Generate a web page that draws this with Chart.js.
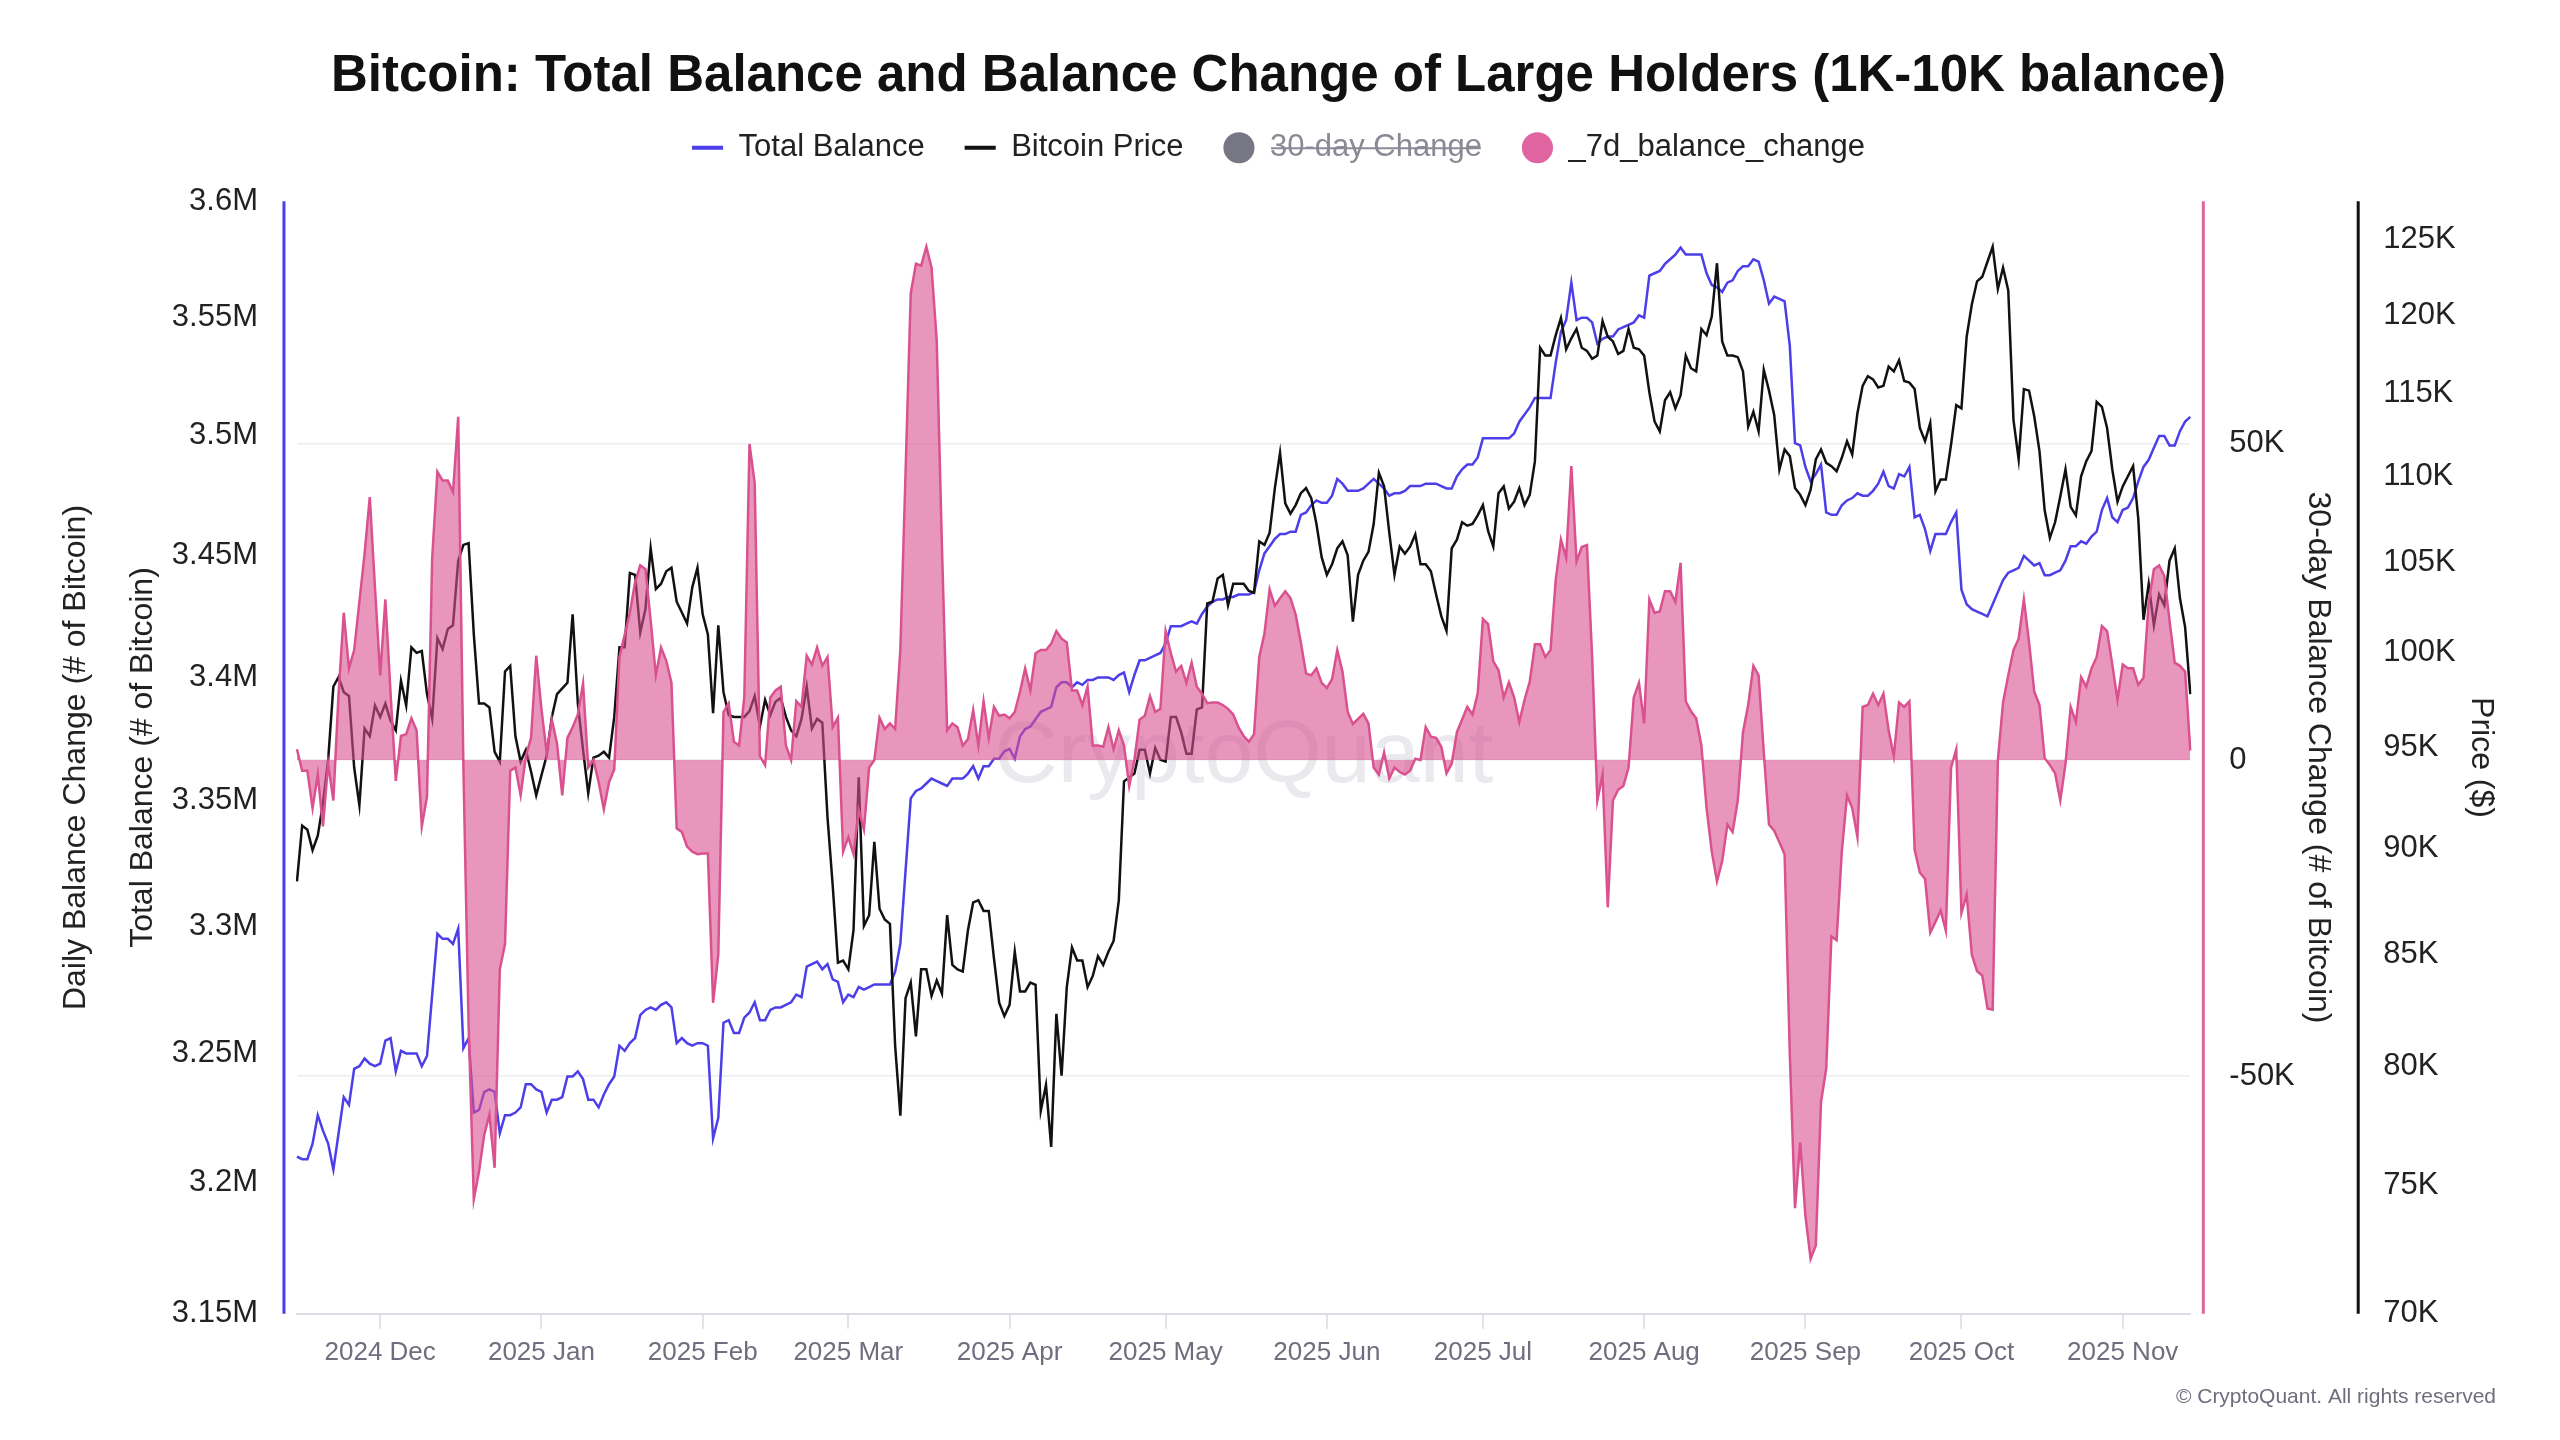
<!DOCTYPE html>
<html>
<head>
<meta charset="utf-8">
<title>Bitcoin: Total Balance and Balance Change of Large Holders</title>
<script src="https://cdn.jsdelivr.net/npm/chart.js@4.4.1/dist/chart.umd.min.js"></script>
<style>
  html, body { margin: 0; padding: 0; background: #fff; }
  canvas { display: block; }
</style>
</head>
<body>
<canvas id="chart" width="2560" height="1440"></canvas>
<script>
// daily series, one value per day starting at startDate
const startDate = '2024-11-15';
const monthNames = ['Jan', 'Feb', 'Mar', 'Apr', 'May', 'Jun', 'Jul', 'Aug', 'Sep', 'Oct', 'Nov', 'Dec'];

const totalBalance = [
  3210000, 3209000, 3209000, 3215000, 3226000, 3220000, 3215000, 3205000, 3219000, 3233000,
  3230000, 3244000, 3245000, 3248000, 3246000, 3245000, 3246000, 3255000, 3256000, 3243000,
  3251000, 3250000, 3250000, 3250000, 3245000, 3249000, 3273000, 3297000, 3295000, 3295000,
  3293000, 3299000, 3252000, 3256000, 3227000, 3228000, 3235000, 3236000, 3235000, 3219000,
  3226000, 3226000, 3227000, 3229000, 3238000, 3238000, 3236000, 3235000, 3227000, 3232000,
  3232000, 3233000, 3241000, 3241000, 3243000, 3240000, 3232000, 3232000, 3229000, 3234000,
  3238000, 3241000, 3253000, 3251000, 3254000, 3256000, 3265000, 3267000, 3268000, 3267000,
  3269000, 3270000, 3268000, 3254000, 3256000, 3254000, 3253000, 3254000, 3254000, 3253000,
  3217000, 3225000, 3262000, 3263000, 3258000, 3258000, 3264000, 3266000, 3270000, 3263000,
  3263000, 3267000, 3268000, 3268000, 3269000, 3270000, 3273000, 3272000, 3284000, 3285000,
  3286000, 3283000, 3285000, 3279000, 3278000, 3270000, 3273000, 3272000, 3276000, 3275000,
  3276000, 3277000, 3277000, 3277000, 3277000, 3282000, 3293000, 3322000, 3351000, 3354000,
  3355000, 3357000, 3359000, 3358000, 3357000, 3356000, 3359000, 3359000, 3359000, 3361000,
  3364000, 3359000, 3364000, 3364000, 3367000, 3367000, 3370000, 3371000, 3367000, 3376000,
  3379000, 3380000, 3383000, 3386000, 3387000, 3388000, 3396000, 3398000, 3398000, 3396000,
  3398000, 3397000, 3399000, 3399000, 3400000, 3400000, 3400000, 3399000, 3401000, 3402000,
  3394000, 3401000, 3407000, 3407000, 3408000, 3409000, 3410000, 3414000, 3421000, 3421000,
  3421000, 3422000, 3423000, 3422000, 3426000, 3429000, 3431000, 3432000, 3432000, 3433000,
  3433000, 3434000, 3434000, 3434000, 3435000, 3444000, 3451000, 3454000, 3457000, 3459000,
  3459000, 3460000, 3460000, 3467000, 3468000, 3471000, 3473000, 3472000, 3472000, 3475000,
  3482000, 3480000, 3477000, 3477000, 3477000, 3478000, 3480000, 3482000, 3480000, 3478000,
  3475000, 3476000, 3476000, 3477000, 3479000, 3479000, 3479000, 3480000, 3480000, 3480000,
  3479000, 3478000, 3478000, 3483000, 3486000, 3488000, 3488000, 3491000, 3499000, 3499000,
  3499000, 3499000, 3499000, 3499000, 3501000, 3506000, 3509000, 3512000, 3516000, 3516000,
  3516000, 3516000, 3531000, 3544000, 3549000, 3565000, 3549000, 3550000, 3550000, 3548000,
  3539000, 3541000, 3542000, 3542000, 3545000, 3546000, 3547000, 3548000, 3551000, 3550000,
  3568000, 3569000, 3570000, 3573000, 3575000, 3577000, 3580000, 3577000, 3577000, 3577000,
  3577000, 3569000, 3564000, 3563000, 3561000, 3565000, 3566000, 3570000, 3572000, 3572000,
  3575000, 3574000, 3566000, 3556000, 3559000, 3558000, 3557000, 3538000, 3497000, 3496000,
  3487000, 3481000, 3484000, 3488000, 3468000, 3467000, 3467000, 3471000, 3473000, 3474000,
  3476000, 3475000, 3475000, 3477000, 3480000, 3485000, 3479000, 3478000, 3484000, 3483000,
  3487000, 3466000, 3467000, 3461000, 3452000, 3459000, 3459000, 3459000, 3464000, 3468000,
  3436000, 3430000, 3428000, 3427000, 3426000, 3425000, 3430000, 3435000, 3440000, 3443000,
  3444000, 3445000, 3450000, 3448000, 3446000, 3447000, 3442000, 3442000, 3443000, 3444000,
  3448000, 3454000, 3454000, 3456000, 3455000, 3458000, 3460000, 3469000, 3474000, 3466000,
  3464000, 3469000, 3470000, 3474000, 3481000, 3487000, 3490000, 3495000, 3500000, 3500000,
  3496000, 3496000, 3502000, 3506000, 3508000
];

const bitcoinPrice = [
  88400, 91100, 90900, 89900, 90600, 92200, 94400, 98200, 98700, 97900,
  97700, 94000, 92100, 96000, 95600, 97200, 96600, 97300, 96400, 95900,
  98500, 97200, 100300, 100000, 100100, 97800, 96500, 100800, 100200, 101300,
  101500, 105100, 106000, 106100, 101000, 97300, 97300, 97100, 94800, 94300,
  99000, 99300, 95600, 94300, 94900, 93800, 92600, 93600, 94600, 96600,
  97800, 98100, 98400, 102100, 97300, 94900, 92700, 94500, 94600, 94800,
  94500, 96600, 100300, 100300, 104400, 104300, 101100, 102400, 105800, 103500,
  103800, 104500, 104700, 102800, 102200, 101600, 103600, 104700, 102100, 101000,
  96800, 101500, 97900, 96700, 96600, 96600, 96600, 96900, 97700, 96100,
  97500, 96700, 97400, 97600, 96600, 95900, 95600, 96500, 98200, 96000,
  96500, 96300, 91500, 88200, 84600, 84700, 84300, 86100, 93500, 86300,
  86800, 90300, 87100, 86600, 86400, 80900, 77900, 83000, 83700, 81300,
  84300, 84300, 83100, 83800, 83200, 86800, 84500, 84300, 84200, 86100,
  87400, 87500, 87000, 87000, 84800, 82800, 82200, 82700, 85100, 83300,
  83300, 83700, 83600, 78100, 79200, 76600, 82300, 79600, 83500, 85300,
  84700, 84700, 83500, 84000, 84900, 84500, 85100, 85600, 87500, 93300,
  93500, 93700, 94900, 94900, 93700, 95000, 94400, 94300, 96600, 96600,
  95800, 94700, 94700, 97000, 97100, 102700, 102800, 104100, 104300, 102600,
  103800, 103800, 103800, 103400, 103300, 106200, 106000, 106700, 109300, 111400,
  108400, 107800, 108300, 109000, 109300, 108700, 107200, 105300, 104300, 104900,
  105800, 106200, 105400, 101700, 104300, 105100, 105600, 107200, 110200, 109400,
  106700, 104300, 105900, 105500, 105900, 106600, 104900, 104900, 104500, 103200,
  102000, 101200, 105800, 106300, 107300, 107100, 107200, 107700, 108300, 106800,
  105900, 109000, 109400, 108100, 108500, 109300, 108300, 108900, 110900, 117900,
  117400, 117400, 118700, 119800, 117800, 118500, 119100, 117900, 117700, 117200,
  117400, 119600, 118600, 118300, 117500, 117700, 119100, 117900, 117800, 117400,
  115100, 113300, 112700, 114600, 115100, 114100, 114900, 117400, 116600, 116400,
  119100, 118700, 119900, 123400, 118300, 117400, 117400, 117300, 116400, 113000,
  113900, 112700, 116500, 115200, 113700, 110400, 111600, 111200, 109300, 108900,
  108300, 109200, 111000, 111600, 110800, 110600, 110300, 111100, 112100, 111300,
  113800, 115500, 116100, 115900, 115400, 115500, 116700, 116400, 117100, 115800,
  115700, 115300, 112900, 112100, 113200, 109100, 109800, 109800, 111900, 114300,
  114100, 118600, 120700, 122200, 122500, 123500, 124500, 121700, 123100, 121600,
  113400, 111000, 115300, 115200, 113600, 111500, 108000, 106400, 107300, 108800,
  110400, 108200, 107700, 110000, 110900, 111500, 114500, 114200, 112900, 110400,
  108500, 109400, 110000, 110600, 107500, 101800, 103800, 101500, 103200, 102600,
  105100, 105800, 103000, 101400, 97800
];

const balanceChange7d = [
  1700, -1700, -1700, -7600, -2300, -10500, -600, -6400, 10500, 23300,
  14500, 17400, 25000, 32600, 41600, 27300, 13400, 25400, 10500, -3300,
  3800, 4100, 6600, 4700, -10500, -5800, 32000, 45600, 44200, 44200,
  42400, 54300, -1200, -41900, -69500, -65100, -59300, -56100, -64500, -33100,
  -29100, -1700, -1200, -5600, 600, 3500, 16500, 8100, 1200, 6400,
  2600, -5600, 3500, 5200, 7200, 12100, -1200, 0, -3500, -7800,
  -3500, -1500, 16300, 19800, 23300, 28100, 30800, 30200, 22100, 13400,
  17800, 15700, 12200, -10800, -11400, -13700, -14500, -14900, -14800, -14800,
  -38400, -30800, 7600, 9000, 2900, 2300, 9900, 50000, 43800, 600,
  -800, 9900, 11000, 11600, 2300, 0, 9300, 8400, 16500, 15100,
  17800, 14900, 16300, 5200, 6700, -14500, -12200, -14900, -7900, -11000,
  -1200, 0, 6700, 4900, 5800, 4900, 17400, 45400, 73800, 78500,
  78200, 81200, 77900, 66300, 33700, 4700, 5800, 5200, 2300, 3300,
  7900, 2300, 9300, 3500, 8400, 7000, 7200, 6600, 7600, 10800,
  14500, 11000, 16900, 17400, 17400, 18400, 20400, 19200, 18600, 11000,
  11000, 8700, 11600, 2300, 2300, 2100, 5200, 1700, 4700, 2300,
  -4100, 0, 6400, 7000, 10100, 7600, 8100, 20400, 16900, 14000,
  14900, 12200, 15400, 11600, 10500, 9000, 9100, 9100, 8700, 8100,
  7200, 5200, 3800, 2900, 4100, 16300, 20000, 27000, 24400, 25600,
  26700, 25600, 23000, 18600, 13700, 13400, 14500, 12200, 11400, 12800,
  17400, 14000, 7600, 5700, 6500, 7300, 5800, -1200, -2300, 1200,
  -2900, -1200, -1900, -2300, -1700, 200, 0, 5200, 3700, 3500,
  2100, -2100, -600, 4400, 6400, 8400, 7200, 10500, 22300, 21500,
  15600, 14200, 9900, 12300, 9900, 6000, 9500, 12400, 18300, 18300,
  16300, 17400, 28500, 34900, 32000, 46500, 31400, 33700, 34000, 16300,
  -6400, -2300, -23300, -6400, -4700, -4100, -1200, 9900, 12200, 5800,
  25400, 23300, 23500, 26700, 26700, 25000, 31200, 9300, 7700, 6600,
  2300, -7600, -14500, -19200, -16000, -10200, -11400, -6400, 4400, 8700,
  14900, 13400, 1200, -10200, -11200, -13000, -14900, -46500, -70900, -60500,
  -72100, -78900, -76800, -54100, -48800, -27900, -28500, -14500, -5600, -7600,
  -12200, 8400, 8700, 10500, 8700, 10500, 4700, 600, 9100, 8400,
  9300, -14200, -17800, -18800, -27300, -25600, -23800, -27000, -1200, 1700,
  -24200, -21300, -30800, -33400, -34100, -39300, -39500, 0, 9100, 13400,
  17400, 19200, 25400, 18600, 10800, 8700, 300, -800, -2100, -6400,
  -600, 8400, 6000, 13100, 11600, 14500, 16300, 21200, 20400, 15100,
  9500, 15100, 14500, 14500, 11900, 13000, 25000, 30200, 30800, 29100,
  22100, 15400, 14900, 14000, 1500
];

const balanceTicks = [3150000, 3200000, 3250000, 3300000, 3350000, 3400000, 3450000, 3500000, 3550000, 3600000];
const priceTicks = [70000, 75000, 80000, 85000, 90000, 95000, 100000, 105000, 110000, 115000, 120000, 125000];
const changeTicks = [-50000, 0, 50000];

// one category label per day
const dates = [];
const first = new Date(startDate + 'T00:00:00Z');
for (let i = 0; i < totalBalance.length; i++) {
  dates.push(new Date(first.getTime() + i * 86400000).toISOString().slice(0, 10));
}

const FONT = '"Liberation Sans", Arial, Helvetica, sans-serif';
Chart.defaults.font.family = FONT;

// leaves room between the legend and the plot
const legendGap = {
  id: 'legendGap',
  beforeInit(chart) {
    const fit = chart.legend.fit;
    chart.legend.fit = function () {
      fit.call(this);
      this.height += 28;
    };
  }
};

const watermark = {
  id: 'watermark',
  beforeDatasetsDraw(chart) {
    const { ctx, chartArea: a } = chart;
    ctx.save();
    ctx.font = '88px ' + FONT;
    ctx.fillStyle = 'rgba(175, 175, 195, 0.28)';
    ctx.textAlign = 'center';
    ctx.textBaseline = 'middle';
    ctx.fillText('CryptoQuant', (a.left + a.right) / 2, (a.top + a.bottom) / 2);
    ctx.restore();
  }
};

// axis lines sit a little outside the plot, like the original
const axisLines = {
  id: 'axisLines',
  afterDraw(chart) {
    const { ctx, chartArea: a, scales } = chart;
    const lines = [
      [a.left - 13, '#4c3ee9'],
      [a.right + 13, '#e0649f'],
      [scales.yPrice.left, '#111111']
    ];
    ctx.save();
    ctx.lineWidth = 3;
    lines.forEach(([x, color]) => {
      ctx.strokeStyle = color;
      ctx.beginPath();
      ctx.moveTo(x, a.top);
      ctx.lineTo(x, a.bottom);
      ctx.stroke();
    });
    ctx.font = '21px ' + FONT;
    ctx.fillStyle = '#6e6e7e';
    ctx.textAlign = 'right';
    ctx.textBaseline = 'middle';
    ctx.fillText('\u00a9 CryptoQuant. All rights reserved', chart.width - 64, 1397);
    ctx.restore();
  }
};

// tick padding counts twice in an axis width, so the title padding takes some back
const axisTitle = (text, padding) => ({
  display: true,
  text,
  color: '#222',
  font: { size: 32 },
  padding
});

new Chart(document.getElementById('chart'), {
  type: 'line',
  data: {
    labels: dates,
    datasets: [
      {
        label: 'Total Balance',
        data: totalBalance,
        yAxisID: 'yBalance',
        borderColor: '#4c3ee9',
        borderWidth: 2.5,
        pointRadius: 0,
        pointHoverRadius: 0,
        pointStyle: 'line',
        legendColor: '#4c3ee9',
        order: 3
      },
      {
        label: 'Bitcoin Price',
        data: bitcoinPrice,
        yAxisID: 'yPrice',
        borderColor: '#111111',
        borderWidth: 2.5,
        pointRadius: 0,
        pointHoverRadius: 0,
        pointStyle: 'line',
        legendColor: '#111111',
        order: 2
      },
      {
        // switched off in the original, so nothing is drawn
        type: 'bar',
        label: '30-day Change',
        data: [],
        yAxisID: 'yChange',
        hidden: true,
        backgroundColor: '#767685',
        pointStyle: 'circle',
        legendColor: '#767685',
        order: 1
      },
      {
        label: '_7d_balance_change',
        data: balanceChange7d,
        yAxisID: 'yChange',
        fill: 'origin',
        backgroundColor: 'rgba(218, 80, 145, 0.6)',
        borderColor: '#d9528f',
        borderWidth: 2.5,
        pointRadius: 0,
        pointHoverRadius: 0,
        pointStyle: 'circle',
        legendColor: '#e0649f',
        order: 0
      }
    ]
  },
  options: {
    responsive: false,
    devicePixelRatio: 1,
    animation: false,
    layout: { padding: { left: 57, right: 60, top: 0, bottom: 64 } },
    plugins: {
      title: {
        display: true,
        text: 'Bitcoin: Total Balance and Balance Change of Large Holders (1K-10K balance)',
        color: '#111',
        font: { size: 51, weight: 'bold' },
        padding: { top: 46, bottom: -15 }
      },
      legend: {
        labels: {
          usePointStyle: true,
          boxHeight: 22,
          padding: 40,
          color: '#222',
          font: { size: 31 },
          sort: (a, b) => a.datasetIndex - b.datasetIndex,
          generateLabels(chart) {
            const items = Chart.defaults.plugins.legend.labels.generateLabels(chart);
            items.forEach(item => {
              const ds = chart.data.datasets[item.datasetIndex];
              item.fillStyle = ds.legendColor;
              item.strokeStyle = ds.legendColor;
              item.lineWidth = ds.pointStyle === 'line' ? 4 : 0;
              if (item.hidden) item.fontColor = '#8a8a96';
            });
            return items;
          }
        }
      },
      tooltip: { enabled: false }
    },
    scales: {
      x: {
        type: 'category',
        offset: false,
        grid: { offset: false, drawOnChartArea: false, drawTicks: true, tickLength: 15, color: '#e2e2e8', lineWidth: 2 },
        border: { color: '#dcdce4', width: 2 },
        ticks: {
          autoSkip: false,
          maxRotation: 0,
          padding: 8,
          color: '#6e6e7e',
          font: { size: 26 },
          callback(value, index) {
            const s = dates[index];
            if (s.slice(8) !== '01') return null;
            return s.slice(0, 4) + ' ' + monthNames[Number(s.slice(5, 7)) - 1];
          }
        }
      },
      yBalance: {
        type: 'logarithmic',
        position: 'left',
        weight: 1,
        min: 3150000,
        max: 3600000,
        afterBuildTicks: scale => { scale.ticks = balanceTicks.map(value => ({ value })); },
        ticks: {
          padding: 39,
          color: '#222',
          font: { size: 31 },
          callback: v => +(v / 1e6).toFixed(2) + 'M'
        },
        grid: { display: false, drawTicks: false },
        border: { display: false },
        title: axisTitle('Total Balance (# of Bitcoin)', { top: 0, bottom: -30 })
      },
      yDaily: {
        type: 'linear',
        position: 'left',
        weight: 2,
        ticks: { display: false },
        grid: { display: false, drawTicks: false },
        border: { display: false },
        title: axisTitle('Daily Balance Change (# of Bitcoin)', { top: 0, bottom: 29 })
      },
      yChange: {
        type: 'linear',
        position: 'right',
        weight: 0,
        min: -87600,
        max: 88400,
        afterBuildTicks: scale => { scale.ticks = changeTicks.map(value => ({ value })); },
        ticks: {
          padding: 39,
          color: '#222',
          font: { size: 31 },
          callback: v => (v === 0 ? '0' : v / 1000 + 'K')
        },
        grid: { color: '#ececf1', lineWidth: 1.5, drawTicks: false },
        border: { display: false },
        title: axisTitle('30-day Balance Change (# of Bitcoin)', { top: 21, bottom: -35 })
      },
      yPrice: {
        type: 'logarithmic',
        position: 'right',
        weight: 1,
        min: 70000,
        max: 127600,
        afterBuildTicks: scale => { scale.ticks = priceTicks.map(value => ({ value })); },
        ticks: {
          padding: 25,
          color: '#222',
          font: { size: 31 },
          callback: v => v / 1000 + 'K'
        },
        grid: { display: false, drawTicks: false },
        border: { display: false },
        title: axisTitle('Price ($)', { top: 0, bottom: -19 })
      }
    }
  },
  plugins: [legendGap, watermark, axisLines]
});
</script>
</body>
</html>
